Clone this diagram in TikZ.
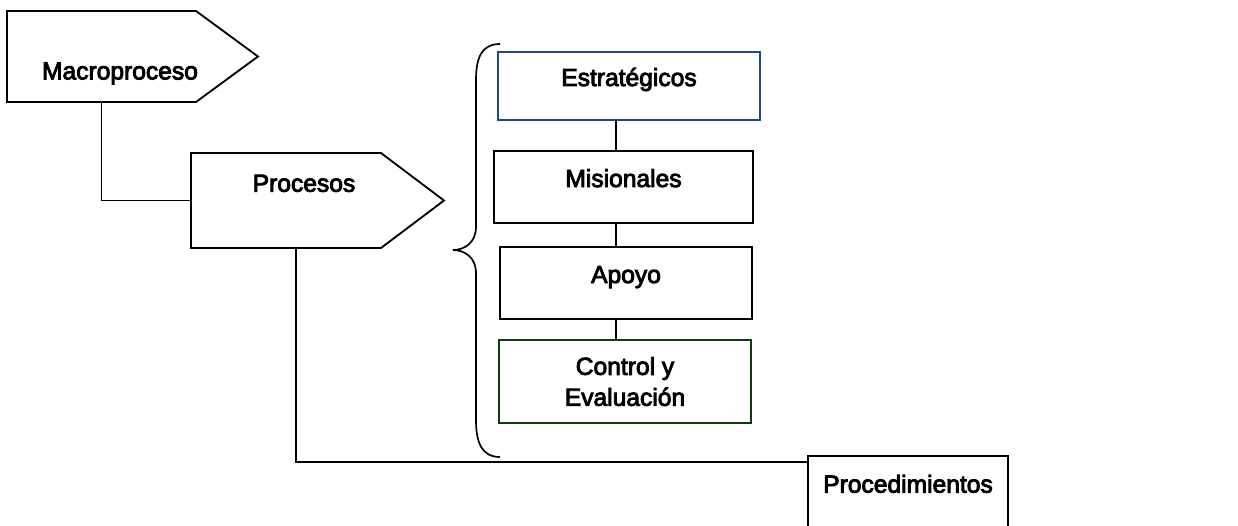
\documentclass[tikz,border=0pt]{standalone}
\usepackage{fontspec}
\setmainfont{Liberation Sans}[FakeBold=3.5]
\usepackage{xcolor}
\definecolor{estblue}{RGB}{31,73,125}
\definecolor{evalgreen}{RGB}{12,60,12}

\tikzset{
  box/.style={draw, line width=1.3pt, outer sep=0pt, minimum height=1.8cm},
  oneline/.style={text height=0.45cm, text depth=0.45cm},
  flag/.style={outer sep=0pt, inner sep=0pt},
  link/.style={line width=1.2pt}
}

\begin{document}
\begin{tikzpicture}[font=\fontsize{17.5}{22}\selectfont]
    \useasboundingbox (0,0) rectangle (30.95,13.125);
    \clip (0,0) rectangle (30.95,13.125);

    % flags
    \node[flag, minimum width=4.725cm, minimum height=2.275cm] (macro) at (2.5375,11.7125) {};
    \draw[line width=1.3pt] (macro.north west) -- (macro.north east) -- ([xshift=1.55cm]macro.east)
        -- (macro.south east) -- (macro.south west) -- cycle;
    \node[anchor=base] (macrotxt) at (3.0,11.14) {Macroproceso};

    \node[flag, minimum width=4.75cm, minimum height=2.375cm] (proc) at (7.15,8.1125) {};
    \draw[line width=1.3pt] (proc.north west) -- (proc.north east) -- ([xshift=1.575cm]proc.east)
        -- (proc.south east) -- (proc.south west) -- cycle;
    \node[anchor=base] (proctxt) at (7.6,8.3325) {Procesos};

    % brace
    \draw[link] (12.5,12.025) .. controls (12.05,12.025) and (11.9,11.7) .. (11.9,11.125)
        -- (11.9,7.45) .. controls (11.9,7.05) and (11.6,6.875) .. (11.325,6.875)
        .. controls (11.6,6.875) and (11.9,6.7) .. (11.9,6.3)
        -- (11.9,2.625) .. controls (11.9,2.05) and (12.05,1.7) .. (12.5,1.7);

    % kinds of process
    \node[box, oneline, draw=estblue, minimum width=6.55cm, minimum height=1.7cm] (est) at (15.725,10.975) {Estratégicos};
    \node[box, oneline, minimum width=6.475cm] (mis) at (15.5875,8.45) {Misionales};
    \node[box, oneline, minimum width=6.3cm] (apoyo) at (15.65,6.05) {Apoyo};
    \node[box, draw=evalgreen, align=center, minimum width=6.3cm, minimum height=2.075cm] (ctrl) at (15.625,3.5875) {Control y\\Evaluación};

    \coordinate (spine) at (15.4,0);
    \draw[link] (est.south -| spine) -- (mis.north -| spine);
    \draw[link] (mis.south -| spine) -- (apoyo.north -| spine);
    \draw[link] (apoyo.south -| spine) -- (ctrl.north -| spine);

    \node[box, text height=0.45cm, text depth=0.82cm, minimum width=5cm, minimum height=2.2cm, anchor=north west] (procd) at (20.2,1.725) {Procedimientos};

    % connectors
    \draw[link] (macro.south) |- (proc.west);
    \draw[link] ([xshift=0.25cm]proc.south) |- ([yshift=-0.15cm]procd.north west);
\end{tikzpicture}
\end{document}
